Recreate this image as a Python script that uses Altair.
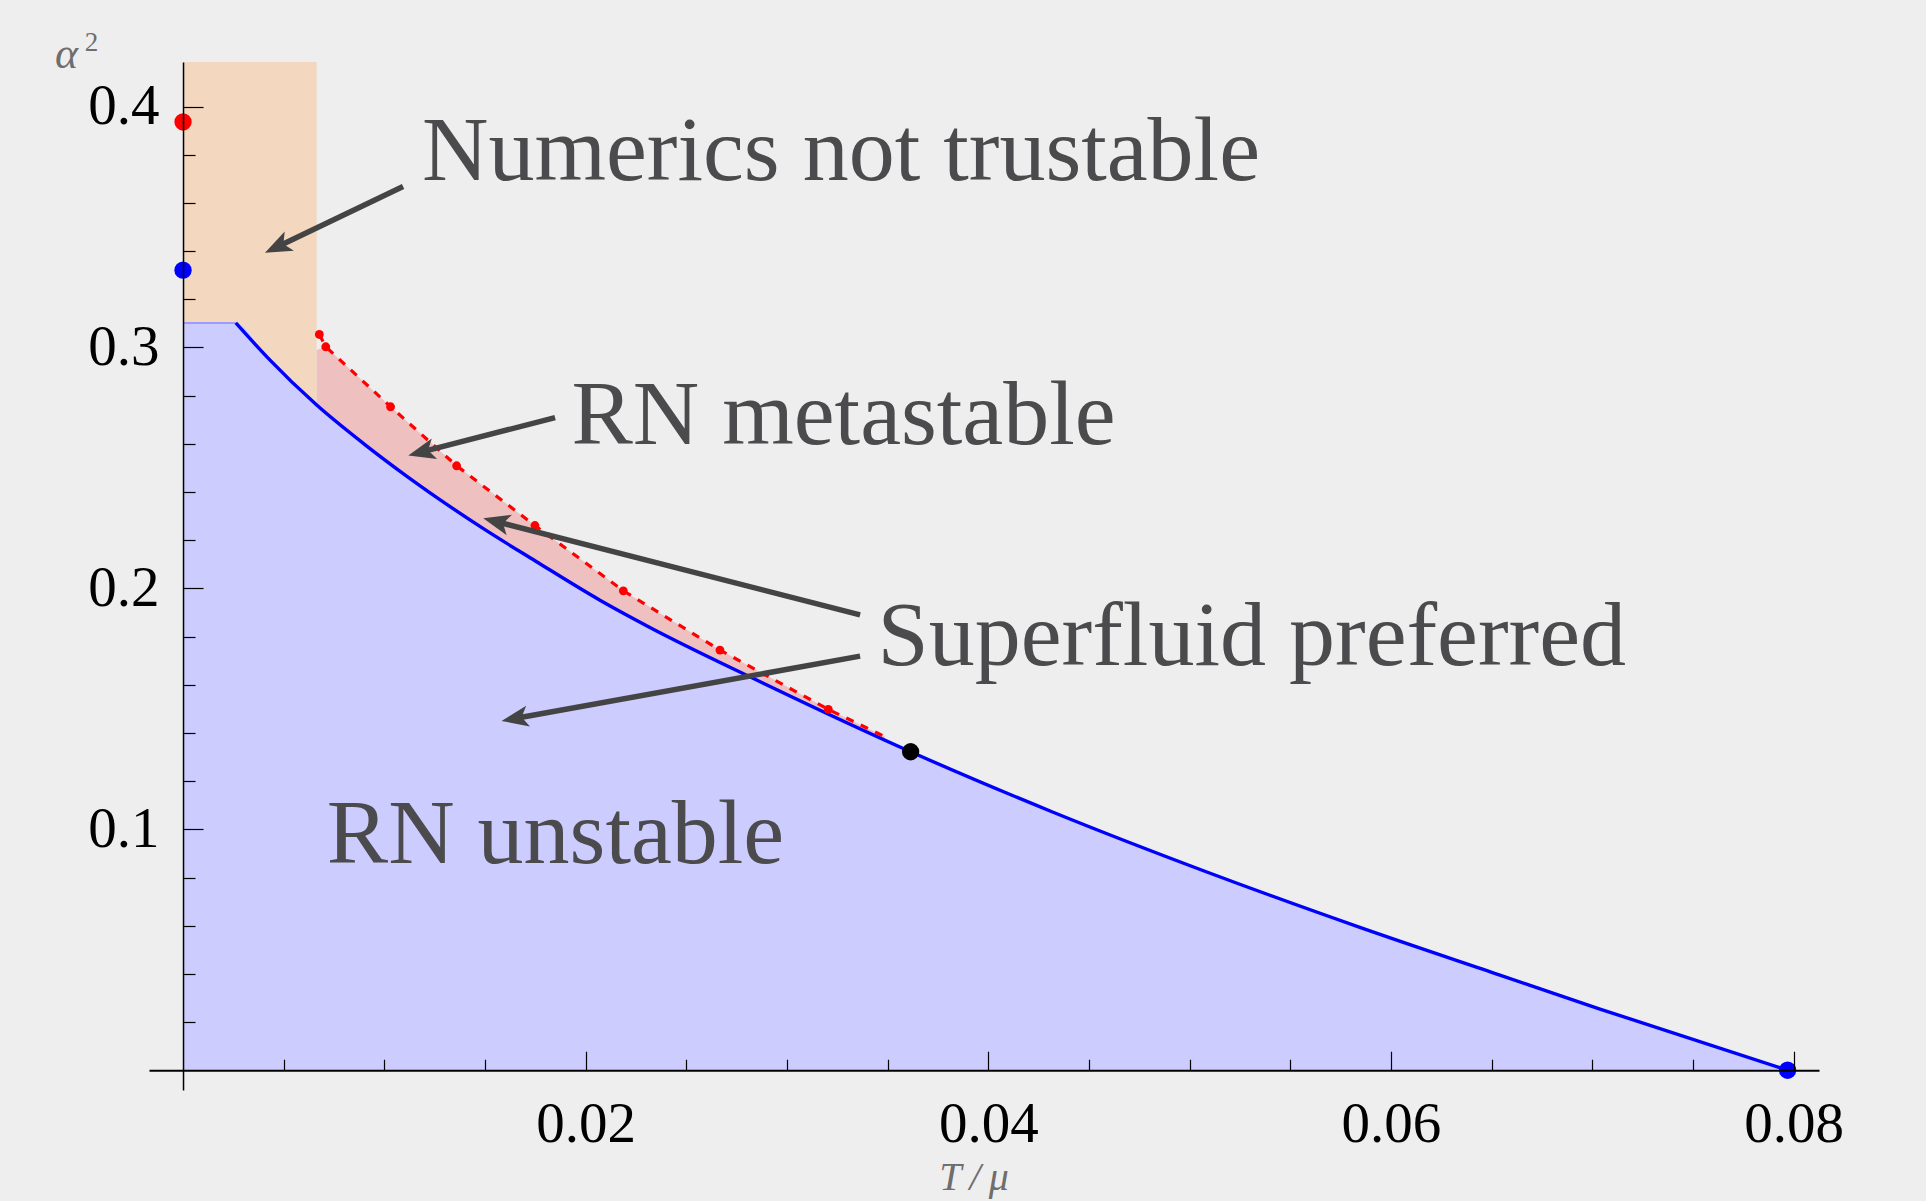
import math
import altair as alt
import pandas as pd

# ---- phase boundary alpha^2(T/mu) (blue curve) ----
curve_t = [0.00262, 0.0042, 0.00664, 0.0090, 0.01119, 0.01492, 0.0175, 0.02071,
           0.02319, 0.02831, 0.03614, 0.04322, 0.05082, 0.05842, 0.06541, 0.07038, 0.0797]
curve_a = [0.3102, 0.2958, 0.2761, 0.2599, 0.2461, 0.2248, 0.2114, 0.1951,
           0.1838, 0.1627, 0.1322, 0.1071, 0.0824, 0.0594, 0.0395, 0.0254, 0.0]
plateau_a = 0.3102          # flat top of the unstable region for small T/mu

# ---- first-order transition line (red, dashed, with sample points) ----
first_t = [0.00677, 0.00709, 0.01031, 0.01359, 0.01748, 0.02187, 0.02667, 0.03205, 0.03487]
first_a = [0.3054, 0.3003, 0.2754, 0.2509, 0.2261, 0.1990, 0.1744, 0.1498, 0.1384]
n_first_dots = 8

# ---- region where the numerics break down ----
trust_edge_t = 0.00664
trust_top_a = 0.4185
meta_start_a = 0.2990       # top of the metastable band at the trust edge

# ---- special points ----
special_t = [0.0, 0.0, 0.03614, 0.0797]
special_a = [0.3936, 0.3321, 0.1322, 0.0]
special_c = ["#ff0000", "#0000ff", "#000000", "#0000ff"]

# ---- annotations ----
label_text = ["Numerics not trustable", "RN metastable", "Superfluid preferred", "RN unstable"]
label_t = [0.01187, 0.01929, 0.03450, 0.00714]
label_a = [0.3695, 0.2599, 0.1682, 0.0861]

arrow_tail_t = [0.01093, 0.01848, 0.03363, 0.03363]
arrow_tail_a = [0.3668, 0.2709, 0.1890, 0.1719]
arrow_tip_t = [0.00407, 0.01119, 0.01491, 0.01582]
arrow_tip_a = [0.3393, 0.2552, 0.2291, 0.1450]

# ---- axes ----
x_ticks = [0.005, 0.01, 0.015, 0.02, 0.025, 0.03, 0.035, 0.04, 0.045, 0.05,
           0.055, 0.06, 0.065, 0.07, 0.075, 0.08]
x_labels = [0.02, 0.04, 0.06, 0.08]
y_ticks = [0.02, 0.04, 0.06, 0.08, 0.1, 0.12, 0.14, 0.16, 0.18, 0.2,
           0.22, 0.24, 0.26, 0.28, 0.3, 0.32, 0.34, 0.36, 0.38, 0.4]
y_labels = [0.1, 0.2, 0.3, 0.4]

XMIN, XMAX = -0.00169, 0.08126
YMIN, YMAX = -0.0082, 0.4185
W, H = 1670, 1028
PAD = {"left": 149, "top": 62, "right": 1926 - 149 - W, "bottom": 1201 - 62 - H}

BG = "#eeeeee"
BLUE_FILL = "#ccccff"
ORANGE_FILL = "#f3d8bf"
PINK_FILL = "#efc0c0"
TEXT_GREY = "#4b4b4d"
ARROW_GREY = "#444444"
TITLE_GREY = "#6e6e6e"
SERIF = "Liberation Serif"

px_x = W / (XMAX - XMIN)
px_y = H / (YMAX - YMIN)

xs = alt.Scale(domain=[XMIN, XMAX], nice=False, zero=False)
ys = alt.Scale(domain=[YMIN, YMAX], nice=False, zero=False)


def X(field, **kw):
    return alt.X(field, type="quantitative", scale=xs, axis=None, **kw)


def Y(field, **kw):
    return alt.Y(field, type="quantitative", scale=ys, axis=None, **kw)


# unstable region: plateau, then under the curve down to the axis
unstable = pd.DataFrame({"t": [0.0] + curve_t, "a": [plateau_a] + curve_a, "base": 0.0})

# untrustable strip: from the plateau / curve up to the top, left of the trust edge
n_strip = curve_t.index(trust_edge_t) + 1
strip = pd.DataFrame({"t": [0.0] + curve_t[:n_strip],
                      "a": [plateau_a] + curve_a[:n_strip],
                      "top": trust_top_a})

# metastable band: under the red line (the blue fill drawn on top trims it)
band = pd.DataFrame({"t": [trust_edge_t] + first_t[1:],
                     "a": [meta_start_a] + first_a[1:], "base": 0.0})

plateau = pd.DataFrame({"t": [0.0, curve_t[0]], "a": [plateau_a, plateau_a]})
curve = pd.DataFrame({"t": curve_t, "a": curve_a})
first = pd.DataFrame({"t": first_t, "a": first_a})
first_dots = first.iloc[:n_first_dots]
special = pd.DataFrame({"t": special_t, "a": special_a, "c": special_c})
labels = pd.DataFrame({"t": label_t, "a": label_a, "text": label_text})

# arrows: shaft stops inside the head; head rotated along the shaft
HEAD_BACK = 19.0
rows = []
for t0, a0, t1, a1 in zip(arrow_tail_t, arrow_tail_a, arrow_tip_t, arrow_tip_a):
    dx = (t1 - t0) * px_x
    dy = -(a1 - a0) * px_y
    L = math.hypot(dx, dy)
    ang = math.degrees(math.atan2(dx, -dy)) % 360
    t_end = t1 - dx / L * HEAD_BACK / px_x
    a_end = a1 + dy / L * HEAD_BACK / px_y
    rows.append({"t0": t0, "a0": a0, "t1": t_end, "a1": a_end,
                 "tip_t": t1, "tip_a": a1, "angle": ang})
arrows = pd.DataFrame(rows)
HEAD = "M0,0 L0.65,1.65 L0,1.25 L-0.65,1.65 Z"

layers = []

layers.append(alt.Chart(strip).mark_area(color=ORANGE_FILL, opacity=1, interpolate="monotone")
              .encode(x=X("t"), y=Y("a"), y2="top"))
layers.append(alt.Chart(band).mark_area(color=PINK_FILL, opacity=1)
              .encode(x=X("t"), y=Y("a"), y2="base"))
layers.append(alt.Chart(unstable).mark_area(color=BLUE_FILL, opacity=1, interpolate="monotone")
              .encode(x=X("t"), y=Y("a"), y2="base"))
layers.append(alt.Chart(plateau).mark_line(color="#9c9cff", strokeWidth=2)
              .encode(x=X("t"), y=Y("a")))
layers.append(alt.Chart(curve).mark_line(color="#0000ff", strokeWidth=3.4, interpolate="monotone")
              .encode(x=X("t"), y=Y("a")))
layers.append(alt.Chart(first).mark_line(color="#ff0000", strokeWidth=3.2, strokeDash=[8, 8])
              .encode(x=X("t"), y=Y("a")))
layers.append(alt.Chart(first_dots).mark_point(filled=True, shape="circle", size=78,
                                               color="#ff0000", opacity=1)
              .encode(x=X("t"), y=Y("a")))
layers.append(alt.Chart(special).mark_point(filled=True, shape="circle", size=300, opacity=1)
              .encode(x=X("t"), y=Y("a"), color=alt.Color("c:N", scale=None)))

# arrows
layers.append(alt.Chart(arrows).mark_rule(color=ARROW_GREY, strokeWidth=5.5, strokeCap="butt")
              .encode(x=X("t0"), y=Y("a0"), x2="t1", y2="a1"))
layers.append(alt.Chart(arrows).mark_point(shape=HEAD, filled=True, size=1070,
                                           color=ARROW_GREY, opacity=1)
              .encode(x=X("tip_t"), y=Y("tip_a"), angle=alt.Angle("angle:Q", scale=None)))

# region labels
layers.append(alt.Chart(labels).mark_text(font=SERIF, fontSize=92, color=TEXT_GREY,
                                          align="left", baseline="alphabetic")
              .encode(x=X("t"), y=Y("a"), text="text:N"))

# axis titles: alpha^2 (with a raised exponent) and T/mu
alpha_title = pd.DataFrame({"t": [-0.00636], "a": [0.4162], "text": ["\u03b1"]})
alpha_power = pd.DataFrame({"t": [-0.00488], "a": [0.4232], "text": ["2"]})
t_title = pd.DataFrame({"t": [0.03929], "a": [-0.0497], "text": ["T\u2009/\u2009\u03bc"]})

layers.append(alt.Chart(alpha_title)
              .mark_text(font=SERIF, fontSize=44, fontStyle="italic", color=TITLE_GREY,
                         align="left", baseline="alphabetic")
              .encode(x=X("t"), y=Y("a"), text="text:N"))
layers.append(alt.Chart(alpha_power)
              .mark_text(font=SERIF, fontSize=27, color=TITLE_GREY,
                         align="left", baseline="alphabetic")
              .encode(x=X("t"), y=Y("a"), text="text:N"))
layers.append(alt.Chart(t_title)
              .mark_text(font=SERIF, fontSize=40, fontStyle="italic", color=TITLE_GREY,
                         align="center", baseline="alphabetic")
              .encode(x=X("t"), y=Y("a"), text="text:N"))

# axes crossing at the origin: ticks point into the plot, labels outside
y0_off = (0 - YMIN) * px_y          # distance of a=0 above the bottom edge
x0_off = (0 - XMIN) * px_x          # distance of t=0 right of the left edge
anchor = pd.DataFrame({"t": [0.0], "a": [0.0]})

x_tick_axis = alt.Axis(orient="top", offset=-(H - y0_off), values=x_ticks, labels=False,
                       domain=True, domainColor="#000000", domainWidth=2,
                       ticks=True, tickColor="#000000", tickWidth=1.2,
                       tickSize={"condition": {"test": "abs(datum.value*50 - round(datum.value*50)) < 0.001",
                                               "value": 19}, "value": 11},
                       grid=False, title=None, zindex=2)
x_label_axis = alt.Axis(orient="bottom", offset=-y0_off, values=x_labels, format=".2f",
                        domain=False, ticks=False, tickSize=0, grid=False, title=None,
                        labelFont=SERIF, labelFontSize=57, labelColor="#000000",
                        labelBaseline="alphabetic", labelPadding=71, labelFlush=False,
                        labelOverlap=False, zindex=2)
y_tick_axis = alt.Axis(orient="right", offset=-(W - x0_off), values=y_ticks, labels=False,
                       domain=True, domainColor="#000000", domainWidth=1.5,
                       ticks=True, tickColor="#000000", tickWidth=1.2,
                       tickSize={"condition": {"test": "abs(datum.value*10 - round(datum.value*10)) < 0.001",
                                               "value": 20}, "value": 12},
                       grid=False, title=None, zindex=2)
y_label_axis = alt.Axis(orient="left", offset=-x0_off, values=y_labels, format=".1f",
                        domain=False, ticks=False, tickSize=0, grid=False, title=None,
                        labelFont=SERIF, labelFontSize=57, labelColor="#000000",
                        labelBaseline="middle", labelPadding=24, labelFlush=False,
                        labelOverlap=False, zindex=2)

for ax in (x_tick_axis, x_label_axis):
    layers.append(alt.Chart(anchor).mark_point(opacity=0)
                  .encode(x=alt.X("t:Q", scale=xs, axis=ax), y=Y("a")))
for ax in (y_tick_axis, y_label_axis):
    layers.append(alt.Chart(anchor).mark_point(opacity=0)
                  .encode(x=X("t"), y=alt.Y("a:Q", scale=ys, axis=ax)))

chart = (alt.layer(*layers)
         .resolve_axis(x="independent", y="independent")
         .properties(width=W, height=H, padding=PAD,
                     autosize=alt.AutoSizeParams(type="none"), background=BG)
         .configure_view(strokeWidth=0))

chart.save("out.html", embed_options={"renderer": "svg", "actions": False})
